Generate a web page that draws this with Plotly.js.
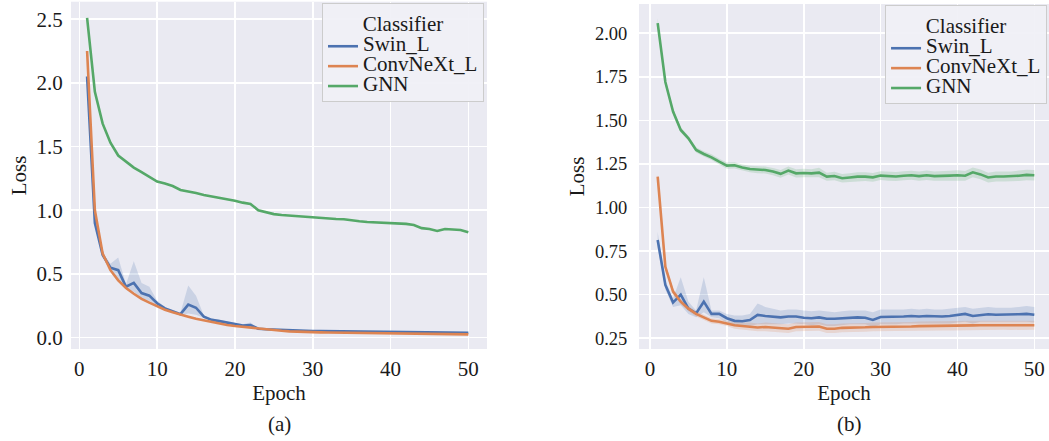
<!DOCTYPE html>
<html>
<head>
<meta charset="utf-8">
<script src="https://cdn.plot.ly/plotly-3.0.1.min.js"></script>
<style>html,body{margin:0;padding:0;background:#fff;}#chart{width:1049px;height:441px;}</style>
</head>
<body>
<div id="chart"></div>
<script>
const epochs = [1,2,3,4,5,6,7,8,9,10,11,12,13,14,15,16,17,18,19,20,21,22,23,24,25,26,27,28,29,30,31,32,33,34,35,36,37,38,39,40,41,42,43,44,45,46,47,48,49,50];
const seriesNames = ['Swin_L','ConvNeXt_L','GNN'];
const xTicks = [0,10,20,30,40,50];

// (a) left panel
const aSwin = [2.05,0.90,0.65,0.55,0.53,0.40,0.43,0.35,0.33,0.27,0.23,0.21,0.185,0.26,0.235,0.165,0.14,0.13,0.12,0.105,0.095,0.10,0.07,0.066,0.063,0.061,0.059,0.057,0.055,0.053,0.052,0.051,0.050,0.049,0.048,0.047,0.047,0.046,0.045,0.045,0.044,0.043,0.042,0.041,0.040,0.040,0.039,0.039,0.038,0.038];
const aSwinUp = [2.06,0.92,0.67,0.58,0.63,0.42,0.60,0.43,0.40,0.29,0.24,0.22,0.195,0.41,0.33,0.175,0.15,0.14,0.13,0.115,0.105,0.12,0.075,0.07,0.067,0.065,0.063,0.061,0.059,0.057,0.056,0.055,0.054,0.053,0.052,0.051,0.051,0.05,0.049,0.049,0.048,0.047,0.046,0.045,0.044,0.044,0.043,0.043,0.042,0.042];
const aSwinLo = [2.04,0.88,0.63,0.53,0.46,0.38,0.36,0.31,0.29,0.25,0.22,0.20,0.175,0.19,0.18,0.155,0.13,0.12,0.11,0.095,0.085,0.085,0.065,0.062,0.059,0.057,0.055,0.053,0.051,0.049,0.048,0.047,0.046,0.045,0.044,0.043,0.043,0.042,0.041,0.041,0.040,0.039,0.038,0.037,0.036,0.036,0.035,0.035,0.034,0.034];
const aConv = [2.25,1.00,0.66,0.53,0.45,0.39,0.345,0.305,0.275,0.245,0.22,0.20,0.18,0.165,0.148,0.135,0.122,0.11,0.10,0.092,0.085,0.078,0.07,0.063,0.058,0.054,0.05,0.047,0.045,0.043,0.042,0.041,0.040,0.039,0.038,0.037,0.036,0.035,0.034,0.033,0.032,0.031,0.030,0.029,0.028,0.028,0.027,0.027,0.026,0.026];
const aGnn = [2.51,1.93,1.68,1.53,1.43,1.38,1.335,1.30,1.26,1.225,1.21,1.19,1.16,1.15,1.135,1.12,1.11,1.095,1.085,1.075,1.06,1.05,1.0,0.985,0.97,0.963,0.958,0.955,0.95,0.942,0.937,0.935,0.932,0.93,0.92,0.914,0.908,0.906,0.903,0.90,0.898,0.893,0.885,0.86,0.853,0.838,0.853,0.848,0.845,0.827];

// (b) right panel
const bSwin = [0.814,0.556,0.455,0.50,0.42,0.393,0.46,0.39,0.39,0.365,0.35,0.348,0.355,0.384,0.378,0.372,0.37,0.375,0.375,0.368,0.365,0.37,0.362,0.362,0.365,0.368,0.37,0.368,0.355,0.372,0.372,0.372,0.375,0.378,0.375,0.378,0.375,0.375,0.378,0.382,0.39,0.378,0.385,0.388,0.385,0.385,0.385,0.388,0.39,0.385];
const bSwinUp = [0.86,0.58,0.48,0.60,0.46,0.41,0.60,0.41,0.41,0.39,0.38,0.38,0.39,0.45,0.43,0.42,0.41,0.415,0.415,0.41,0.405,0.41,0.405,0.40,0.405,0.41,0.41,0.41,0.40,0.415,0.415,0.415,0.415,0.42,0.415,0.42,0.415,0.415,0.42,0.425,0.43,0.42,0.425,0.43,0.425,0.425,0.425,0.43,0.435,0.43];
const bSwinLo = [0.77,0.53,0.43,0.44,0.39,0.37,0.40,0.37,0.365,0.34,0.325,0.32,0.32,0.33,0.33,0.33,0.33,0.335,0.335,0.33,0.325,0.33,0.32,0.32,0.325,0.33,0.33,0.33,0.315,0.33,0.33,0.33,0.335,0.335,0.335,0.335,0.335,0.335,0.335,0.34,0.345,0.335,0.345,0.345,0.345,0.345,0.345,0.345,0.345,0.34];
const bConv = [1.177,0.66,0.518,0.46,0.42,0.39,0.37,0.35,0.345,0.335,0.325,0.32,0.318,0.312,0.315,0.313,0.31,0.305,0.315,0.315,0.315,0.318,0.305,0.305,0.31,0.31,0.312,0.313,0.315,0.315,0.316,0.317,0.318,0.318,0.32,0.32,0.32,0.32,0.321,0.322,0.323,0.324,0.325,0.325,0.325,0.325,0.324,0.325,0.326,0.325];
const bConvUp = [1.19,0.68,0.535,0.475,0.435,0.405,0.385,0.365,0.36,0.35,0.345,0.34,0.34,0.335,0.34,0.338,0.335,0.33,0.34,0.34,0.34,0.343,0.33,0.33,0.335,0.335,0.338,0.338,0.34,0.34,0.342,0.343,0.344,0.344,0.346,0.346,0.346,0.346,0.347,0.348,0.349,0.35,0.351,0.351,0.351,0.351,0.35,0.351,0.352,0.351];
const bConvLo = [1.16,0.64,0.50,0.445,0.405,0.375,0.355,0.335,0.33,0.32,0.305,0.30,0.295,0.29,0.29,0.288,0.285,0.28,0.29,0.29,0.29,0.293,0.28,0.28,0.285,0.285,0.287,0.288,0.29,0.29,0.29,0.291,0.292,0.292,0.294,0.294,0.294,0.294,0.295,0.296,0.297,0.298,0.299,0.299,0.299,0.299,0.298,0.299,0.3,0.299];
const bGnn = [2.057,1.72,1.55,1.445,1.397,1.33,1.307,1.288,1.263,1.24,1.242,1.229,1.221,1.217,1.215,1.206,1.193,1.212,1.196,1.198,1.196,1.2,1.177,1.181,1.168,1.172,1.177,1.177,1.173,1.183,1.18,1.178,1.182,1.185,1.18,1.185,1.18,1.18,1.183,1.185,1.182,1.202,1.19,1.172,1.178,1.178,1.178,1.182,1.187,1.185];
const bGnnUp = [2.085,1.74,1.565,1.46,1.41,1.345,1.322,1.305,1.28,1.258,1.26,1.247,1.24,1.237,1.235,1.227,1.215,1.235,1.22,1.222,1.22,1.228,1.2,1.205,1.192,1.197,1.202,1.202,1.198,1.208,1.206,1.204,1.208,1.211,1.207,1.212,1.207,1.207,1.211,1.213,1.21,1.23,1.218,1.2,1.207,1.207,1.207,1.212,1.217,1.215];
const bGnnLo = [2.03,1.70,1.535,1.43,1.384,1.316,1.292,1.272,1.246,1.222,1.224,1.211,1.202,1.197,1.195,1.185,1.171,1.19,1.172,1.174,1.172,1.173,1.154,1.157,1.144,1.147,1.152,1.152,1.148,1.158,1.154,1.152,1.156,1.159,1.153,1.158,1.153,1.153,1.155,1.157,1.154,1.174,1.162,1.144,1.149,1.149,1.149,1.152,1.157,1.155];

const colors = ['#4C72B0','#DD8452','#55A868'];
const bands = ['rgba(76,114,176,0.2)','rgba(221,132,82,0.2)','rgba(85,168,104,0.2)'];
const FONT = "'Liberation Serif', 'Times New Roman', serif";
const FS = 21;
const TXT = '#1a1a1a';

function band(lo, up, ci, xa, ya) {
  return [
    {x: epochs, y: lo, xaxis: xa, yaxis: ya, mode: 'lines', line: {width: 0, color: bands[ci]}, showlegend: false, hoverinfo: 'skip'},
    {x: epochs, y: up, xaxis: xa, yaxis: ya, mode: 'lines', line: {width: 0, color: bands[ci]}, fill: 'tonexty', fillcolor: bands[ci], showlegend: false, hoverinfo: 'skip'}
  ];
}
function line(y, ci, xa, ya, lg) {
  return {x: epochs, y: y, xaxis: xa, yaxis: ya, mode: 'lines', name: '<span style="font-size:' + FS + 'px">' + seriesNames[ci] + '</span>',
    line: {color: colors[ci], width: 2.6}, legend: lg};
}

const data = [
  ...band(aSwinLo, aSwinUp, 0, 'x', 'y'),
  line(aSwin, 0, 'x', 'y', 'legend'),
  line(aConv, 1, 'x', 'y', 'legend'),
  line(aGnn, 2, 'x', 'y', 'legend'),
  ...band(bSwinLo, bSwinUp, 0, 'x2', 'y2'),
  ...band(bConvLo, bConvUp, 1, 'x2', 'y2'),
  ...band(bGnnLo, bGnnUp, 2, 'x2', 'y2'),
  line(bSwin, 0, 'x2', 'y2', 'legend2'),
  line(bConv, 1, 'x2', 'y2', 'legend2'),
  line(bGnn, 2, 'x2', 'y2', 'legend2')
];

const axisBase = {
  showgrid: true, gridcolor: '#ffffff', gridwidth: 1.6, zeroline: false, showline: false,
  ticks: 'outside', tickcolor: 'rgba(0,0,0,0)', tickfont: {family: FONT, size: FS, color: TXT}, automargin: false
};
const legendBase = {
  bgcolor: 'rgba(240,240,246,0.92)', bordercolor: '#cccccc', borderwidth: 1,
  font: {family: FONT, size: 13, color: TXT},
  title: {text: 'Classifier', side: 'top center', font: {family: FONT, size: FS, color: TXT}},
  yanchor: 'top', tracegroupgap: 0, traceorder: 'normal'
};

const layout = {
  width: 1049, height: 441,
  margin: {l: 0, r: 0, t: 0, b: 0},
  paper_bgcolor: '#ffffff', plot_bgcolor: '#EAEAF2',
  font: {family: FONT, color: TXT},
  xaxis: Object.assign({}, axisBase, {domain: [0.06768, 0.46425], range: [-1.07, 52.4], tickvals: xTicks, anchor: 'y', ticklen: 1,
    title: {text: 'Epoch', font: {family: FONT, size: FS, color: TXT}, standoff: 5}}),
  yaxis: Object.assign({}, axisBase, {domain: [0.20862, 0.9961], range: [-0.0887, 2.637], dtick: 0.5, tick0: 0, tickformat: '.1f', anchor: 'x', ticklen: 3,
    title: {text: 'Loss', font: {family: FONT, size: FS, color: TXT}, standoff: 4}}),
  xaxis2: Object.assign({}, axisBase, {domain: [0.60915, 1.0], range: [-1.43, 51.91], tickvals: xTicks, anchor: 'y2', ticklen: 1,
    title: {text: 'Epoch', font: {family: FONT, size: FS, color: TXT}, standoff: 5}}),
  yaxis2: Object.assign({}, axisBase, {domain: [0.20862, 0.9909], range: [0.1886, 2.167], dtick: 0.25, tick0: 0, tickformat: '.2f', anchor: 'x2', ticklen: 7,
    tickfont: {family: FONT, size: 18.5, color: TXT},
    title: {text: 'Loss', font: {family: FONT, size: FS, color: TXT}, standoff: 4}}),
  legend: Object.assign({}, legendBase, {x: 0.4614, xanchor: 'right', y: 0.9932}),
  legend2: Object.assign({}, legendBase, {x: 0.8437, xanchor: 'left', y: 0.9887}),
  annotations: [
    {text: '(a)', xref: 'paper', yref: 'paper', x: 279/1049, y: 1 - 424/441, xanchor: 'center', yanchor: 'middle', showarrow: false, font: {family: FONT, size: FS, color: TXT}},
    {text: '(b)', xref: 'paper', yref: 'paper', x: 849/1049, y: 1 - 424/441, xanchor: 'center', yanchor: 'middle', showarrow: false, font: {family: FONT, size: FS, color: TXT}}
  ]
};

Plotly.newPlot('chart', data, layout, {displayModeBar: false, staticPlot: true});
</script>
</body>
</html>
